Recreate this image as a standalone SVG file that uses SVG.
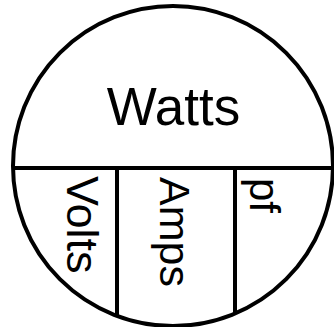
<svg xmlns="http://www.w3.org/2000/svg" width="334" height="327" viewBox="0 0 334 327">
<style>
.ln{fill:none;stroke:#000;stroke-width:4}
.t{font-family:"Liberation Sans",Arial,sans-serif;fill:#000}
</style>
<rect width="334" height="327" fill="#fff"/>
<g id="outline">
<circle class="ln" cx="173" cy="166" r="160"/>
</g>
<g id="connectors">
<line class="ln" x1="13" y1="168" x2="334" y2="168"/>
<line class="ln" x1="117" y1="168" x2="117" y2="317"/>
<line class="ln" x1="235" y1="168" x2="235" y2="314"/>
</g>
<g id="watts"><text class="t" x="173.5" y="125" font-size="53" text-anchor="middle">Watts</text></g>
<g id="volts"><text class="t" font-size="45" transform="translate(67,176) rotate(90)">Volts</text></g>
<g id="amps"><text class="t" font-size="43" transform="translate(160,177) rotate(90)">Amps</text></g>
<g id="pf"><text class="t" font-size="42" transform="translate(250,178) rotate(90)">pf</text></g>
</svg>
